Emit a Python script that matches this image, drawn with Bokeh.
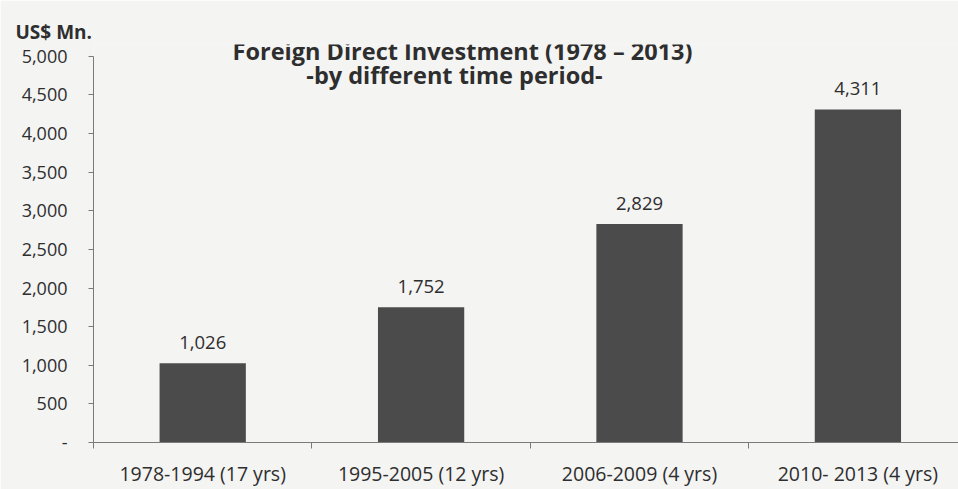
from bokeh.plotting import figure
from bokeh.models import Range1d, FixedTicker, Label, ColumnDataSource, NumeralTickFormatter, Title
from bokeh.embed import file_html
from bokeh.resources import INLINE
from bokeh.core.properties import value

# ---- data ----
periods = ["1978-1994 (17 yrs)", "1995-2005 (12 yrs)", "2006-2009 (4 yrs)", "2010- 2013 (4 yrs)"]
fdi = [1026, 1752, 2829, 4311]
y_ticks = [0, 500, 1000, 1500, 2000, 2500, 3000, 3500, 4000, 4500, 5000]
title_line1 = "Foreign Direct Investment (1978 \u2013 2013)"
title_line2 = "-by different time period-"
unit_label = "US$ Mn."

FONT = "Open Sans"
TXT = "#2e2e2e"
AX = "#7a7a7a"
BG = "#f4f4f3"

W, H = 958, 489
FR_L, FR_T, FR_B = 93, 44, 446      # frame edges (px)
Y_AX_TOP = 56                        # pixel of 5,000
y_end = 5000 * (FR_B - FR_T) / (FR_B - Y_AX_TOP)
x_end = (W - FR_L) / 218.4

x_pos = [i + 0.5 for i in range(len(periods))]
src = ColumnDataSource(dict(x=x_pos, fdi=fdi, label=[f"{v:,}" for v in fdi]))

p = figure(width=W, height=H, output_backend="svg", toolbar_location=None,
           x_range=Range1d(0, x_end), y_range=Range1d(0, y_end),
           min_border_left=FR_L, min_border_right=0, min_border_top=FR_T, min_border_bottom=H - FR_B)
p.background_fill_color = BG
p.border_fill_color = BG
p.outline_line_color = None
p.grid.visible = False

p.vbar(x="x", top="fdi", width=0.395, source=src, fill_color="#4b4b4b", line_color=None)
p.text(x="x", y="fdi", text="label", source=src, y_offset=-21,
       text_align="center", text_baseline="middle",
       text_font=value(FONT), text_font_size="18.5px", text_color=TXT)

# y axis
ya = p.yaxis[0]
ya.bounds = (0, 5000)
ya.ticker = FixedTicker(ticks=y_ticks, minor_ticks=[])
ya.formatter = NumeralTickFormatter(format="0,0")
ya.major_label_overrides = {0: "-"}
ya.major_tick_in = 0
ya.major_tick_out = 5
ya.minor_tick_in = 0
ya.minor_tick_out = 0
ya.major_label_standoff = 21
ya.axis_line_color = AX
ya.major_tick_line_color = AX
ya.major_label_text_font = FONT
ya.major_label_text_font_size = "18px"
ya.major_label_text_color = TXT

# x axis
xa = p.xaxis[0]
xa.ticker = FixedTicker(ticks=x_pos, minor_ticks=[float(i) for i in range(len(periods) + 1)])
xa.major_label_overrides = {x: lab for x, lab in zip(x_pos, periods)}
xa.major_tick_in = 0
xa.major_tick_out = 0
xa.minor_tick_in = 0
xa.minor_tick_out = 6
xa.minor_tick_line_color = AX
xa.axis_line_color = AX
xa.major_label_standoff = 11
xa.major_label_text_font = FONT
xa.major_label_text_font_size = "19.5px"
xa.major_label_text_color = TXT

# unit label (title above, shifted left over the y-axis labels)
p.add_layout(Title(text=unit_label, align="left", offset=15 - FR_L, standoff=0,
                   text_font=FONT, text_font_size="19px", text_font_style="bold", text_color=TXT), "above")

# chart title (two lines)
def ypx(py):
    return (FR_B - py) / (FR_B - Y_AX_TOP) * 5000

def xpx(px):
    return (px - FR_L) / 218.4

p.add_layout(Label(x=xpx(462), y=ypx(51), text=title_line1, text_align="center", text_baseline="middle",
                   text_font=FONT, text_font_size="23.5px", text_font_style="bold", text_color=TXT))
p.add_layout(Label(x=xpx(454), y=ypx(75), text=title_line2, text_align="center", text_baseline="middle",
                   text_font=FONT, text_font_size="23.5px", text_font_style="bold", text_color=TXT))

open("out.html", "w").write(file_html(p, INLINE))
